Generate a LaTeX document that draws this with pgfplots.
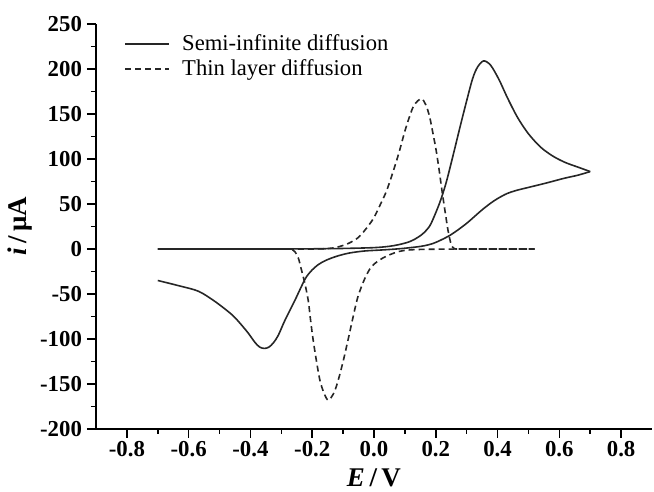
\documentclass[border=0pt]{standalone}
\usepackage{pgfplots}
\pgfplotsset{compat=1.18}
\usepackage{fontspec}
\setmainfont{Liberation Serif}
\begin{document}
\begin{tikzpicture}
\begin{axis}[
  name=ax,
  scale only axis,
  width=278pt, height=202.5pt,
  xmin=-0.9, xmax=0.9, ymin=-200, ymax=250,
  axis lines=left,
  axis line style={-, line width=1pt},
  tick align=outside,
  major tick length=4.5pt, minor tick length=2.5pt,
  tick style={line width=0.8pt, black},
  xtick={-0.8,-0.6,-0.4,-0.2,0,0.2,0.4,0.6,0.8},
  xticklabels={-0.8,-0.6,-0.4,-0.2,0.0,0.2,0.4,0.6,0.8},
  ytick={-200,-150,-100,-50,0,50,100,150,200,250},
  yticklabels={-200,-150,-100,-50,0,50,100,150,200,250},
  minor x tick num=1, minor y tick num=1,
  ticklabel style={font=\fontsize{11.4}{13}\selectfont\bfseries},
  xticklabel style={yshift=2pt},
  yticklabel style={xshift=1pt},
  xlabel={\textbf{\textit{E}\,/\,V}},
  ylabel={\textbf{\textit{i}\,/\,μA}},
  label style={font=\fontsize{13.5}{15}\selectfont},
  xlabel style={yshift=1pt},
  ylabel style={yshift=-3pt},
  legend style={at={(0.04,0.995)}, anchor=north west, draw=none, fill=none,
    font=\fontsize{11.3}{12}\selectfont, row sep=-1pt},
  legend cell align=left,
  legend image code/.code={\draw[#1] (0pt,0pt) -- (22pt,0pt); \path (26pt,0pt);},
]
\addplot[line width=0.8pt, black!85, no marks, smooth] coordinates {
(-0.70,0) (-0.4,0) (-0.2,0.2) (-0.1,0.6) (0.0,1.5) (0.05,3) (0.08,4.8) (0.11,7.5) (0.13,10.5) (0.153,15.5) (0.17,21) (0.185,28.5) (0.212,50.7) (0.233,73) (0.255,102.6) (0.276,132) (0.298,162) (0.319,189) (0.335,202) (0.355,209) (0.378,204) (0.405,188) (0.432,168) (0.465,146) (0.50,128) (0.54,113) (0.58,103) (0.62,96) (0.66,91) (0.70,86)
};
\addlegendentry{Semi-infinite diffusion}
\addplot[line width=0.8pt, black!85, no marks, smooth, forget plot] coordinates {
(0.70,86) (0.66,82) (0.615,78.5) (0.56,73.5) (0.507,69) (0.46,65) (0.43,61.5) (0.40,56) (0.378,51) (0.35,43.5) (0.325,36) (0.30,28.5) (0.271,21) (0.245,15) (0.217,10) (0.19,6) (0.153,3) (0.09,0.5) (0.03,-1) (-0.03,-2.2) (-0.08,-4.5) (-0.12,-8) (-0.155,-12.5) (-0.181,-17.5) (-0.205,-25) (-0.224,-34) (-0.256,-57) (-0.288,-79) (-0.31,-96) (-0.325,-104) (-0.34,-109) (-0.355,-110.5) (-0.37,-109) (-0.385,-104) (-0.406,-94) (-0.43,-84) (-0.46,-73) (-0.514,-58.5) (-0.568,-47) (-0.63,-41) (-0.70,-35)
};
\addplot[line width=0.8pt, black!85, no marks, smooth, dash pattern=on 3pt off 2pt] coordinates {
(-0.70,0) (-0.4,0) (-0.2,0) (-0.15,0.5) (-0.12,2) (-0.084,6) (-0.05,13) (-0.02,25) (0.0,35) (0.02,49) (0.04,64) (0.06,84) (0.08,106) (0.10,131) (0.115,147) (0.13,160) (0.153,167) (0.168,160) (0.18,147) (0.19,130) (0.20,112) (0.21,90) (0.22,65) (0.23,42) (0.24,20) (0.25,5) (0.26,0.5) (0.28,0) (0.40,0) (0.52,0)
};
\addlegendentry{Thin layer diffusion}
\addplot[line width=0.8pt, black!85, no marks, smooth, dash pattern=on 3pt off 2pt, forget plot] coordinates {
(0.52,0) (0.3,0) (0.15,-0.5) (0.1,-1.5) (0.077,-3) (0.04,-8) (0.015,-13) (-0.009,-20) (-0.03,-33) (-0.052,-53) (-0.068,-76) (-0.084,-101) (-0.10,-125) (-0.116,-146) (-0.13,-160) (-0.148,-168) (-0.162,-160) (-0.175,-146) (-0.186,-125) (-0.197,-101) (-0.205,-80) (-0.213,-57) (-0.224,-38) (-0.235,-23) (-0.245,-10) (-0.256,-3) (-0.265,-0.5) (-0.28,0) (-0.4,0) (-0.70,0)
};
\end{axis}
\pgfresetboundingbox
\path (ax.south west) ++(-48pt,-31.5pt) coordinate (bl);
\path (ax.north east) ++(1pt,12pt) coordinate (tr);
\path (bl) rectangle (tr);
\end{tikzpicture}
\end{document}
